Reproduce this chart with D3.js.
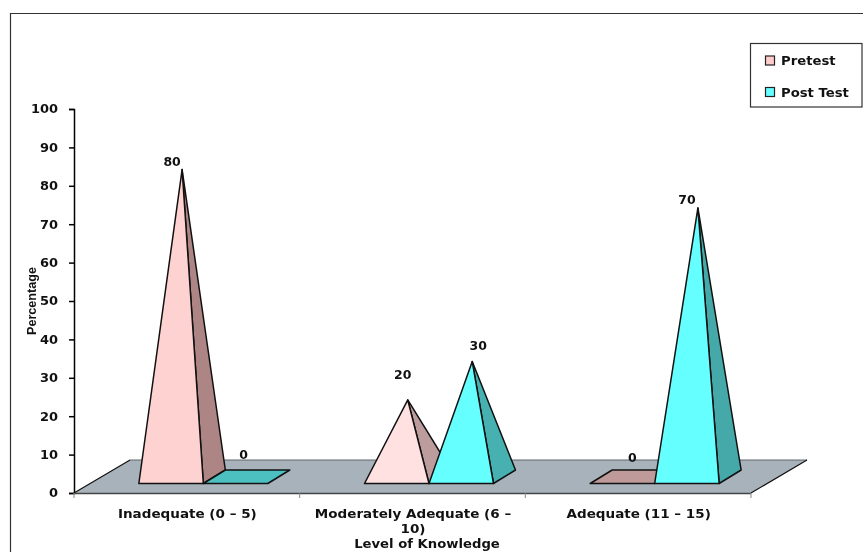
<!DOCTYPE html>
<html><head><meta charset="utf-8">
<script src="https://cdn.jsdelivr.net/npm/d3@7/dist/d3.min.js"></script>
<style>html,body{margin:0;padding:0;background:#fff}svg{display:block;filter:blur(0.35px)}
text{font-family:"DejaVu Sans",sans-serif;font-weight:700;fill:#111}</style></head>
<body><svg id="c" width="863" height="552"></svg>
<script>
const categories = ["Inadequate (0 – 5)", "Moderately Adequate (6 – 10)", "Adequate (11 – 15)"];
const seriesNames = ["Pretest", "Post Test"];
const pretest = [80, 20, 0];
const postTest = [0, 30, 70];
const yTicks = [0,10,20,30,40,50,60,70,80,90,100];
const seriesValues = [pretest, postTest];
// per-mark tones (the reference renders the middle pink paler)
const frontFill = [["#FFD2D2","#FFE1E1","#FFD2D2"],["#66FFFF","#66FFFF","#66FFFF"]];
const sideFill = [["#AE8585","#BC9C9C","#AE8585"],["#47ABAB","#47B0B0","#45A9A9"]];
const flatFill = ["#BE9A9A","#4CC0C0"];
// label nudges [dx, dy] from each apex
const labelNudge = [[[-10,-4],[-5,-21],[0,0]],[[0,0],[6,-12],[-11,-4]]];

// stretch a text element horizontally, keeping it real text
function widen(sel,k){
  sel.each(function(){
    const w=this.getComputedTextLength();
    d3.select(this).attr("textLength",w*k).attr("lengthAdjust","spacingAndGlyphs");
  });
  return sel;
}

const svg = d3.select("#c");
const L=74,R=751,T=109,B=493;
const y = d3.scaleLinear().domain([0,100]).range([B,T]);
const x = d3.scaleBand().domain(categories).range([L,R]);
const inner = d3.scaleBand().domain(seriesNames).range([0,x.bandwidth()]).paddingInner(0).paddingOuter(0.75);
const floorDx=56, floorDy=-33;          // full floor depth
const inDx=16.5, inDy=-9.5;             // bars' front plane
const pDx=22, pDy=-13.5;                // pyramid depth

// frame
svg.append("path").attr("d","M10.5,552V13.5H863").attr("fill","none").attr("stroke","#333").attr("stroke-width",1.2);

// floor
svg.append("path").attr("d",`M${L},${B}H${R}L${R+floorDx},${B+floorDy}H${L+floorDx}Z`).attr("fill","#A8B2BA");
svg.append("path").attr("d",`M${L+floorDx},${B+floorDy}H${R+floorDx}`).attr("stroke","#5f666b").attr("fill","none");
svg.append("path").attr("d",`M${L},${B}L${L+floorDx},${B+floorDy}M${R},${B}L${R+floorDx},${B+floorDy}`).attr("stroke","#111").attr("stroke-width",1.2).attr("fill","none");

// y axis
const gy = svg.append("g").attr("transform",`translate(${L},0)`)
  .call(d3.axisLeft(y).tickValues(yTicks).tickSize(5).tickPadding(11));
gy.selectAll("path,line").attr("stroke","#000").attr("stroke-width",1.5);
gy.selectAll("text").attr("font-size",12).attr("fill","#111").style("font-family",'"DejaVu Sans"').call(widen,1.08);

// x axis (ticks at band edges)
svg.append("line").attr("x1",L).attr("x2",R).attr("y1",B+.5).attr("y2",B+.5).attr("stroke","#444").attr("stroke-width",1.4);
const edges=[L,...categories.map(c=>x(c)+x.bandwidth())];
svg.selectAll(".xt").data(edges).join("line").attr("class","xt")
  .attr("x1",d=>d).attr("x2",d=>d).attr("y1",B).attr("y2",B+5).attr("stroke","#888").attr("stroke-width",1);
const wrapped = {"Moderately Adequate (6 – 10)":["Moderately Adequate (6 –","10)"]};
categories.forEach(c=>{
  (wrapped[c]||[c]).forEach((l,i)=>{
    svg.append("text").attr("x",x(c)+x.bandwidth()/2+.5).attr("y",517.5+i*15).attr("text-anchor","middle")
      .attr("font-size",12.3).text(l).call(widen,1.1);
  });
});
svg.append("text").attr("x",427).attr("y",548).attr("text-anchor","middle").attr("font-size",12).text("Level of Knowledge").call(widen,1.1);
svg.append("text").attr("transform","translate(36,301) rotate(-90)").attr("text-anchor","middle")
  .attr("font-size",13).attr("textLength",68).attr("lengthAdjust","spacingAndGlyphs")
  .style("font-family",'"Liberation Sans Narrow","Liberation Sans"').style("font-weight",700).text("Percentage");

// pyramids
const base0 = B+inDy;
const unit = y(0)-y(1);
const marks = svg.append("g").attr("stroke","#111").attr("stroke-width",1.5).attr("stroke-linejoin","round");
categories.forEach((c,ci)=>{
  seriesNames.forEach((s,si)=>{
    const v = seriesValues[si][ci];
    const x0 = x(c)+inner(s)+inDx, w = inner.bandwidth(), x1=x0+w;
    const ax = x0+w/2+pDx/2, ay = base0+pDy/2 - v*unit;
    if(v===0){
      marks.append("path").attr("d",`M${x0},${base0}H${x1}L${x1+pDx},${base0+pDy}H${x0+pDx}Z`).attr("fill",flatFill[si]);
      svg.append("text").attr("x",ax-(si?3:1)).attr("y",si?459:462).attr("text-anchor","middle").attr("font-size",12).text(v).call(widen,1.04);
    } else {
      marks.append("path").attr("d",`M${ax},${ay}L${x1},${base0}L${x1+pDx},${base0+pDy}Z`).attr("fill",sideFill[si][ci]);
      marks.append("path").attr("d",`M${ax},${ay}L${x0},${base0}H${x1}Z`).attr("fill",frontFill[si][ci]);
      const n=labelNudge[si][ci];
      svg.append("text").attr("x",ax+n[0]).attr("y",ay+n[1]).attr("text-anchor","middle").attr("font-size",12).text(v).call(widen,1.04);
    }
  });
});

// legend
svg.append("rect").attr("x",750.5).attr("y",43.5).attr("width",111.5).attr("height",63.5).attr("fill","#fff").attr("stroke","#333").attr("stroke-width",1.2);
const legFill=["#FFCCCC","#66FFFF"];
seriesNames.forEach((s,i)=>{
  const ly=60.5+i*31.5;
  svg.append("rect").attr("x",765.5).attr("y",ly-4.5).attr("width",9).attr("height",9).attr("fill",legFill[i]).attr("stroke","#222").attr("stroke-width",1.2);
  svg.append("text").attr("x",781).attr("y",ly+4.5).attr("font-size",12).text(s).call(widen,1.1);
});
</script></body></html>
